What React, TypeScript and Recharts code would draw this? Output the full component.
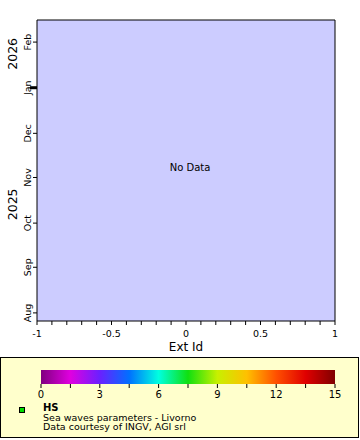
import { ScatterChart, Scatter, XAxis, YAxis, ReferenceArea } from 'recharts';

// time axis (UTC ms)
const yStart = Date.UTC(2025, 6, 26, 12);
const yEnd = Date.UTC(2026, 1, 16);
const monthTicks = [
    Date.UTC(2025, 7, 1),
    Date.UTC(2025, 8, 1),
    Date.UTC(2025, 9, 1),
    Date.UTC(2025, 10, 1),
    Date.UTC(2025, 11, 1),
    Date.UTC(2026, 0, 1),
    Date.UTC(2026, 1, 1),
];
const monthLabels = ['Aug', 'Sep', 'Oct', 'Nov', 'Dec', 'Jan', 'Feb'];
const yearBreaks = [yStart, Date.UTC(2026, 0, 1), yEnd];
const yearLabels = ['2025', '2026'];

const xTicks = [-1, -0.9, -0.8, -0.7, -0.6, -0.5, -0.4, -0.3, -0.2, -0.1, 0, 0.1, 0.2, 0.3, 0.4, 0.5, 0.6, 0.7, 0.8, 0.9, 1];
const xLabelTicks = [-1, -0.5, 0, 0.5, 1];

// HS series: nothing recorded in the window
const hsData: { ext: number; t: number; hs: number }[] = [];

// colour scale
const colorStops = [0, 1.5, 3, 4.5, 6, 7.5, 9, 10.5, 12, 13.5, 15];
const colorValues = [
    '#800080', '#e000e0', '#6a20ff', '#0070ff', '#00ffe0', '#10e010',
    '#c8f000', '#ffc000', '#ff5000', '#e00000', '#800000',
];
const colorTicks = [0, 3, 6, 9, 12, 15];

const FONT = 'DejaVu Sans, sans-serif';
const PLOT_LEFT = 37;
const PLOT_BOTTOM = 321;

const yearMids = yearLabels.map((_, i) => (yearBreaks[i] + yearBreaks[i + 1]) / 2);

function YTick(props: any) {
    const { y, payload } = props;
    const yi = yearMids.indexOf(payload.value);
    if (yi >= 0) {
        return (
            <text
                x={17}
                y={y}
                transform={`rotate(-90 17 ${y})`}
                textAnchor="middle"
                fontSize={12.5}
                fontFamily={FONT}
                fill="#000"
            >
                {yearLabels[yi]}
            </text>
        );
    }
    const mi = monthTicks.indexOf(payload.value);
    const isYear = monthLabels[mi] === 'Jan';
    return (
        <g>
            <line
                x1={isYear ? 30 : 33}
                x2={PLOT_LEFT}
                y1={y}
                y2={y}
                stroke="#000"
                strokeWidth={isYear ? 3 : 1}
            />
            <text
                x={31.5}
                y={y}
                transform={`rotate(-90 31.5 ${y})`}
                textAnchor="middle"
                fontSize={9.5}
                fontFamily={FONT}
                fill="#000"
            >
                {monthLabels[mi]}
            </text>
        </g>
    );
}

function XTick(props: any) {
    const { x, payload } = props;
    const v = payload.value;
    const major = xLabelTicks.some((t) => Math.abs(t - v) < 1e-9);
    return (
        <g>
            <line x1={x} x2={x} y1={PLOT_BOTTOM} y2={PLOT_BOTTOM + 4} stroke="#000" strokeWidth={1} />
            {major && (
                <text x={x} y={PLOT_BOTTOM + 16} textAnchor="middle" fontSize={9.5} fontFamily={FONT} fill="#000">
                    {String(v)}
                </text>
            )}
        </g>
    );
}

function NoDataLabel(props: any) {
    const vb = props.viewBox || { x: 0, y: 0, width: 0, height: 0 };
    return (
        <text
            x={vb.x + vb.width / 2 + 4}
            y={vb.y + vb.height / 2}
            textAnchor="middle"
            fontSize={10}
            fontFamily={FONT}
            fill="#000"
        >
            No Data
        </text>
    );
}

function ColorLegend() {
    const barX = 41;
    const barW = 294;
    const barY = 370;
    const barH = 14;
    const sx = (v: number) => barX + (v / 15) * barW;
    return (
        <svg width={360} height={83} viewBox="0 357 360 83" style={{ display: 'block' }}>
            <defs>
                <linearGradient id="hsScale" x1="0" x2="1" y1="0" y2="0">
                    {colorStops.map((s, i) => (
                        <stop key={s} offset={s / 15} stopColor={colorValues[i]} />
                    ))}
                </linearGradient>
            </defs>
            <rect x={0.5} y={357.5} width={358} height={80} fill="#ffffcc" stroke="#000" />
            <rect x={barX} y={barY} width={barW} height={barH} fill="url(#hsScale)" />
            {colorStops.map((s) => (
                <line key={s} x1={sx(s)} x2={sx(s)} y1={barY + barH} y2={barY + barH + 4} stroke="#000" />
            ))}
            {colorTicks.map((t) => (
                <text key={t} x={sx(t)} y={398} textAnchor="middle" fontSize={10} fontFamily={FONT} fill="#000">
                    {t}
                </text>
            ))}
            <rect x={19.5} y={407.5} width={5} height={5} fill="#00dd00" stroke="#000" />
            <text x={43} y={411} fontSize={10} fontWeight="bold" fontFamily={FONT} fill="#000">
                HS
            </text>
            <text x={43} y={420.5} fontSize={9.5} fontFamily={FONT} fill="#000">
                Sea waves parameters - Livorno
            </text>
            <text x={43} y={430} fontSize={9.5} fontFamily={FONT} fill="#000">
                Data courtesy of INGV, AGI srl
            </text>
        </svg>
    );
}

export default function App() {
    return (
        <div style={{ position: 'absolute', left: 0, top: 0, width: 360, height: 440, background: '#fff' }}>
            <ScatterChart width={360} height={357} margin={{ top: 20, right: 25, bottom: 0, left: 0 }}>
                <XAxis
                    type="number"
                    dataKey="ext"
                    domain={[-1, 1]}
                    ticks={xTicks}
                    interval={0}
                    axisLine={false}
                    tickLine={false}
                    tick={<XTick />}
                    height={36}
                    allowDataOverflow
                    label={{
                        value: 'Ext Id',
                        position: 'insideBottom',
                        offset: 6,
                        fontSize: 12,
                        fontFamily: FONT,
                        fill: '#000',
                    }}
                />
                <YAxis
                    type="number"
                    dataKey="t"
                    domain={[yStart, yEnd]}
                    ticks={[...monthTicks, ...yearMids]}
                    interval={0}
                    axisLine={false}
                    tickLine={false}
                    tick={<YTick />}
                    width={37}
                    allowDataOverflow
                />
                <ReferenceArea
                    x1={-1}
                    x2={1}
                    y1={yStart}
                    y2={yEnd}
                    fill="#ccccff"
                    fillOpacity={1}
                    stroke="#000"
                    strokeWidth={1}
                    ifOverflow="visible"
                    label={<NoDataLabel />}
                />
                <Scatter data={hsData} dataKey="hs" fill="#00dd00" isAnimationActive={false} />
            </ScatterChart>
            <ColorLegend />
        </div>
    );
}
